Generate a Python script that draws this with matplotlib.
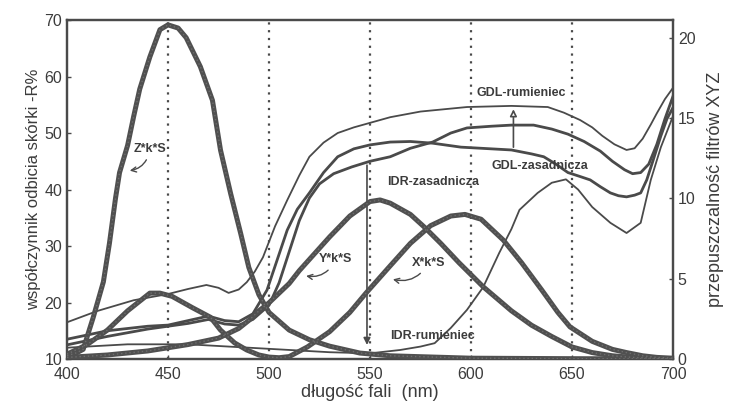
import matplotlib
matplotlib.use("Agg")
import matplotlib.pyplot as plt

# ---- skin reflectance curves, R% (left axis) ----
gdl_rum_wl = [400, 415, 433, 450, 460, 469, 475, 480, 485, 489, 493, 497, 503, 509, 515, 520, 527, 534,
              542, 550, 560, 575, 598, 620, 638, 646, 654, 660, 665, 671, 677, 681, 685, 689, 692, 696, 700]
gdl_rum = [16.5, 18.5, 20.4, 21.5, 22.4, 23.1, 22.6, 21.7, 22.3, 23.6, 25.5, 28.0, 33.5, 38.1, 42.5, 45.8,
           48.3, 50.0, 51.0, 51.8, 52.8, 53.8, 54.6, 54.8, 54.6, 53.6, 52.3, 51.0, 49.5, 48.0, 47.0, 47.3,
           49.0, 51.5, 53.5, 56.0, 58.0]

gdl_zas_wl = [400, 420, 440, 450, 460, 470, 478, 485, 492, 499, 504, 509, 514, 520, 527, 534, 542, 550,
              560, 570, 581, 595, 610, 620, 630, 636, 642, 648, 654, 659, 664, 669, 673, 677, 681, 684,
              687, 690, 694, 697, 700]
gdl_zas = [13.5, 15.0, 15.8, 16.0, 16.8, 17.6, 16.8, 16.6, 18.0, 22.2, 27.5, 32.8, 36.5, 39.4, 43.0, 45.8,
           47.2, 47.9, 48.4, 48.5, 48.2, 47.5, 47.2, 47.0, 46.3, 45.8, 44.5, 43.0, 42.3, 41.7, 40.5, 39.4,
           38.9, 38.7, 39.0, 39.4, 41.7, 45.0, 49.5, 52.5, 54.5]

idr_zas_wl = [400, 420, 440, 450, 460, 470, 478, 485, 492, 500, 505, 510, 515, 520, 525, 532, 541, 550,
              560, 570, 581, 590, 598, 610, 620, 631, 640, 648, 656, 664, 670, 676, 680, 684, 688, 692,
              696, 700]
idr_zas = [12.5, 14.0, 15.3, 15.8, 16.3, 17.0, 16.2, 16.0, 17.0, 19.5, 23.5, 29.0, 34.5, 38.5, 41.0, 42.8,
           44.0, 45.0, 45.8, 47.3, 48.4, 50.0, 50.9, 51.2, 51.4, 51.4, 50.7, 49.8, 48.5, 46.8, 45.0, 43.5,
           42.8, 43.0, 44.5, 48.0, 52.5, 56.5]

idr_rum_wl = [400, 430, 460, 500, 530, 550, 565, 575, 582, 590, 598, 606, 614, 620, 624, 633, 640, 647,
              653, 660, 669, 677, 684, 689, 694, 700]
idr_rum = [12.0, 12.6, 12.6, 11.8, 11.2, 11.0, 11.6, 12.2, 12.8, 15.5, 18.7, 22.7, 28.8, 33.0, 36.4, 39.4,
           41.2, 41.8, 40.0, 36.9, 34.1, 32.3, 34.1, 41.7, 47.5, 53.0]

# ---- filter curves X*k*S, Y*k*S, Z*k*S (right axis) ----
z_wl = [400, 405, 408, 413, 418, 421, 424, 426, 430, 433, 436, 441, 446, 450, 455, 459, 466, 472, 476,
        481, 486, 490, 495, 500, 510, 520, 530, 545, 560, 600, 650, 700]
z_val = [0.2, 0.4, 0.6, 2.6, 4.8, 7.2, 10.0, 11.6, 13.3, 15.1, 16.8, 18.8, 20.5, 20.8, 20.6, 20.0, 18.2,
         16.1, 13.0, 10.3, 7.8, 5.7, 4.0, 2.9, 1.8, 1.2, 0.8, 0.37, 0.2, 0.05, 0.02, 0.0]

y_wl = [400, 420, 440, 460, 475, 485, 490, 495, 500, 510, 515, 520, 530, 540, 550, 555, 560, 570, 577,
        585, 594, 606, 620, 630, 640, 650, 660, 670, 680, 690, 700]
y_val = [0.1, 0.25, 0.5, 0.9, 1.3, 1.9, 2.4, 3.0, 3.5, 4.7, 5.5, 6.2, 7.6, 8.9, 9.8, 9.9, 9.7, 9.0, 8.2,
         7.2, 6.0, 4.5, 3.0, 2.1, 1.4, 0.75, 0.4, 0.2, 0.1, 0.05, 0.0]

x_wl = [400, 410, 420, 430, 436, 441, 446, 452, 462, 471, 476, 483, 489, 495, 500, 505, 510, 519, 530,
        540, 548, 560, 570, 580, 590, 597, 605, 616, 625, 635, 643, 649, 660, 670, 677, 685, 692, 700]
x_val = [0.3, 0.9, 1.8, 3.0, 3.6, 4.1, 4.1, 3.9, 3.2, 2.6, 1.8, 1.0, 0.56, 0.25, 0.12, 0.08, 0.15, 0.75,
         1.7, 2.9, 4.1, 5.8, 7.2, 8.3, 8.9, 9.0, 8.7, 7.4, 6.0, 4.3, 2.9, 2.0, 1.1, 0.6, 0.4, 0.2, 0.1, 0.05]

grid_wl = [450, 500, 550, 600, 650]

ink = "#4a4a4a"
txt = "#3c3c3c"
plt.rcParams['font.family'] = ['Liberation Sans', 'DejaVu Sans']

fig = plt.figure(figsize=(7.34, 4.19), dpi=100)
ax = fig.add_axes([0.0913, 0.1432, 0.8256, 0.809])
ax2 = ax.twinx()

ax.set_xlim(400, 700)
ax.set_ylim(10, 70)
ax2.set_ylim(0, 21.1)

for w in grid_wl:
    ax.axvline(w, color=ink, linestyle=(0, (1, 2.5)), linewidth=1.6, zorder=1)

# reflectance curves
ax.plot(gdl_rum_wl, gdl_rum, color=ink, linewidth=1.3, zorder=3)
ax.plot(gdl_zas_wl, gdl_zas, color=ink, linewidth=2.0, zorder=3)
ax.plot(idr_zas_wl, idr_zas, color=ink, linewidth=2.0, zorder=3)
ax.plot(idr_rum_wl, idr_rum, color=ink, linewidth=1.3, zorder=3)

# filter curves (thick, grainy)
for wl, v in [(z_wl, z_val), (y_wl, y_val), (x_wl, x_val)]:
    ax2.plot(wl, v, color="#505050", linewidth=3.6, solid_capstyle='round', zorder=4)
    ax2.plot(wl, v, color="#6e6e6e", linewidth=1.0, linestyle=(0, (1, 2)), zorder=5)

# labels on the curves
lab = dict(fontsize=9, fontweight='bold', color=txt, ha='center', va='center')
arc = dict(arrowstyle='->', color=ink, lw=1.0, connectionstyle='arc3,rad=-0.4')
ax2.annotate("Z*k*S", xy=(429.7, 11.7), xytext=(441, 13.1), textcoords='data', arrowprops=arc, **lab)
ax2.annotate("Y*k*S", xy=(517, 5.2), xytext=(533, 6.2), textcoords='data', arrowprops=arc, **lab)
ax2.annotate("X*k*S", xy=(560, 5.0), xytext=(579, 6.0), textcoords='data', arrowprops=arc, **lab)

ax.text(581, 41.3, "IDR-zasadnicza", **lab)
ax.text(581, 14.0, "IDR-rumieniec", **lab)
ax.text(625, 57.0, "GDL-rumieniec", **lab)
ax.text(634, 44.2, "GDL-zasadnicza", **lab)

# arrows between the base and blush curves
ax.annotate("", xy=(548.5, 12.0), xytext=(548.5, 44.8),
            arrowprops=dict(arrowstyle='-|>', color=ink, lw=1.2, mutation_scale=10))
ax.annotate("", xy=(621, 54.7), xytext=(621, 47.0),
            arrowprops=dict(arrowstyle='-|>', color=ink, lw=1.2, mutation_scale=10, fc='white'))

ax.set_xticks([400, 450, 500, 550, 600, 650, 700])
ax.set_yticks([10, 20, 30, 40, 50, 60, 70])
ax2.set_yticks([0, 5, 10, 15, 20])
for a in (ax, ax2):
    a.tick_params(direction='in', length=3, width=1, colors=ink, labelsize=11.5, labelcolor=txt)
    for s in a.spines.values():
        s.set_color(ink)
        s.set_linewidth(1.6)
ax.tick_params(axis='x', pad=6)

ax.set_xlabel("długość fali  (nm)", fontsize=13, color=txt, labelpad=1)
ax.set_ylabel("współczynnik odbicia skórki -R%", fontsize=12, color=txt, labelpad=2)
ax2.set_ylabel("przepuszczalność filtrów XYZ", fontsize=13, color=txt, labelpad=8)

fig.savefig("out.png", dpi=100)
